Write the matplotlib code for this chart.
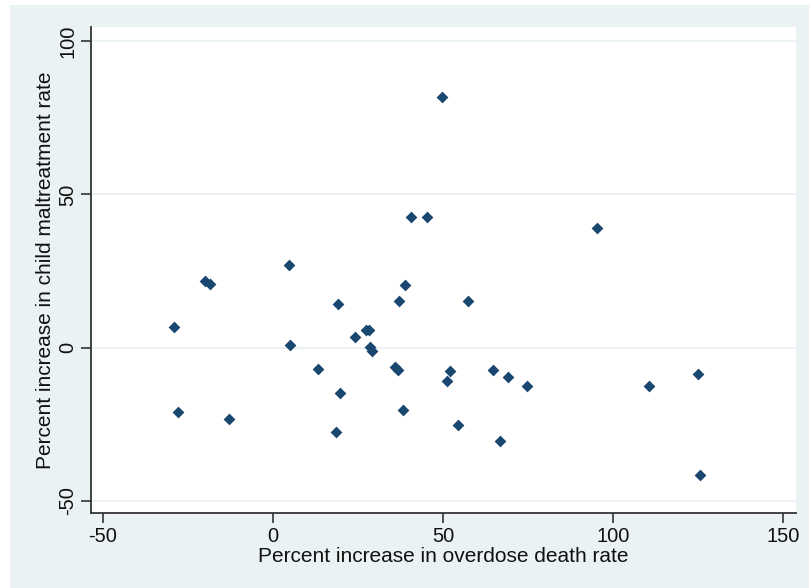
import matplotlib.pyplot as plt
from matplotlib.patches import Rectangle

# Percent increase in overdose death rate (x) vs child maltreatment rate (y)
overdose_pct = [49.8, 40.7, 45.4, 95.3, 4.7, -19.9, -18.3, 38.8, 19.2, 37.1,
                57.3, -28.9, 27.5, 28.4, 24.2, 5.2, 28.6, 29.2, 13.2, 36.0,
                36.7, 52.2, 51.1, 64.6, 69.2, 74.8, 19.7, -27.8, -12.9, 18.7,
                38.3, 54.3, 66.7, 125.0, 110.4, 125.4]
maltreat_pct = [81.9, 42.5, 42.5, 39.1, 27.1, 21.9, 20.9, 20.3, 14.2, 15.1,
                15.2, 6.9, 5.9, 5.9, 3.6, 0.75, 0.2, -1.0, -6.8, -6.2,
                -7.2, -7.5, -10.9, -7.4, -9.7, -12.5, -14.8, -21.0, -23.1, -27.5,
                -20.2, -25.2, -30.3, -8.6, -12.6, -41.4]

x_ticks = [-50, 0, 50, 100, 150]
y_ticks = [-50, 0, 50, 100]

plt.rcParams['font.family'] = ['Liberation Sans', 'DejaVu Sans']
plt.rcParams['axes.unicode_minus'] = False

BG = '#eaf2f3'
NAVY = '#1a476f'

fig = plt.figure(figsize=(8.09, 5.88), dpi=100)
fig.patch.set_facecolor('white')
fig.patches.append(Rectangle((10 / 809, 0), 1, 1 - 5 / 588, transform=fig.transFigure,
                             facecolor=BG, edgecolor='none', zorder=-10))

ax = fig.add_axes([91 / 809, 1 - 513 / 588, (796 - 91) / 809, (513 - 27) / 588])
ax.set_facecolor('white')

ax.scatter(overdose_pct, maltreat_pct, marker='D', s=36, color=NAVY,
           linewidths=0, zorder=3)

ax.set_xlim(-53.4, 153.7)
ax.set_ylim(-53.9, 104.6)
ax.set_xticks(x_ticks)
ax.set_yticks(y_ticks)

ax.grid(axis='y', color=BG, linewidth=1.5)
ax.grid(axis='x', visible=False)

for s in ['top', 'right']:
    ax.spines[s].set_visible(False)
for s in ['left', 'bottom']:
    ax.spines[s].set_color('#333333')
    ax.spines[s].set_linewidth(1.3)

ax.tick_params(axis='both', length=7, width=1.2, color='#333333',
               labelsize=14.5, labelcolor='#111111')
ax.tick_params(axis='x', pad=3)
ax.tick_params(axis='y', labelrotation=90, pad=3)
for lbl in ax.get_yticklabels():
    lbl.set_verticalalignment('center')

ax.set_xlabel('Percent increase in overdose death rate', fontsize=15,
              color='#111111', labelpad=1)
ax.set_ylabel('Percent increase in child maltreatment rate', fontsize=15,
              color='#111111', labelpad=2)

fig.savefig('out.png', dpi=100)
